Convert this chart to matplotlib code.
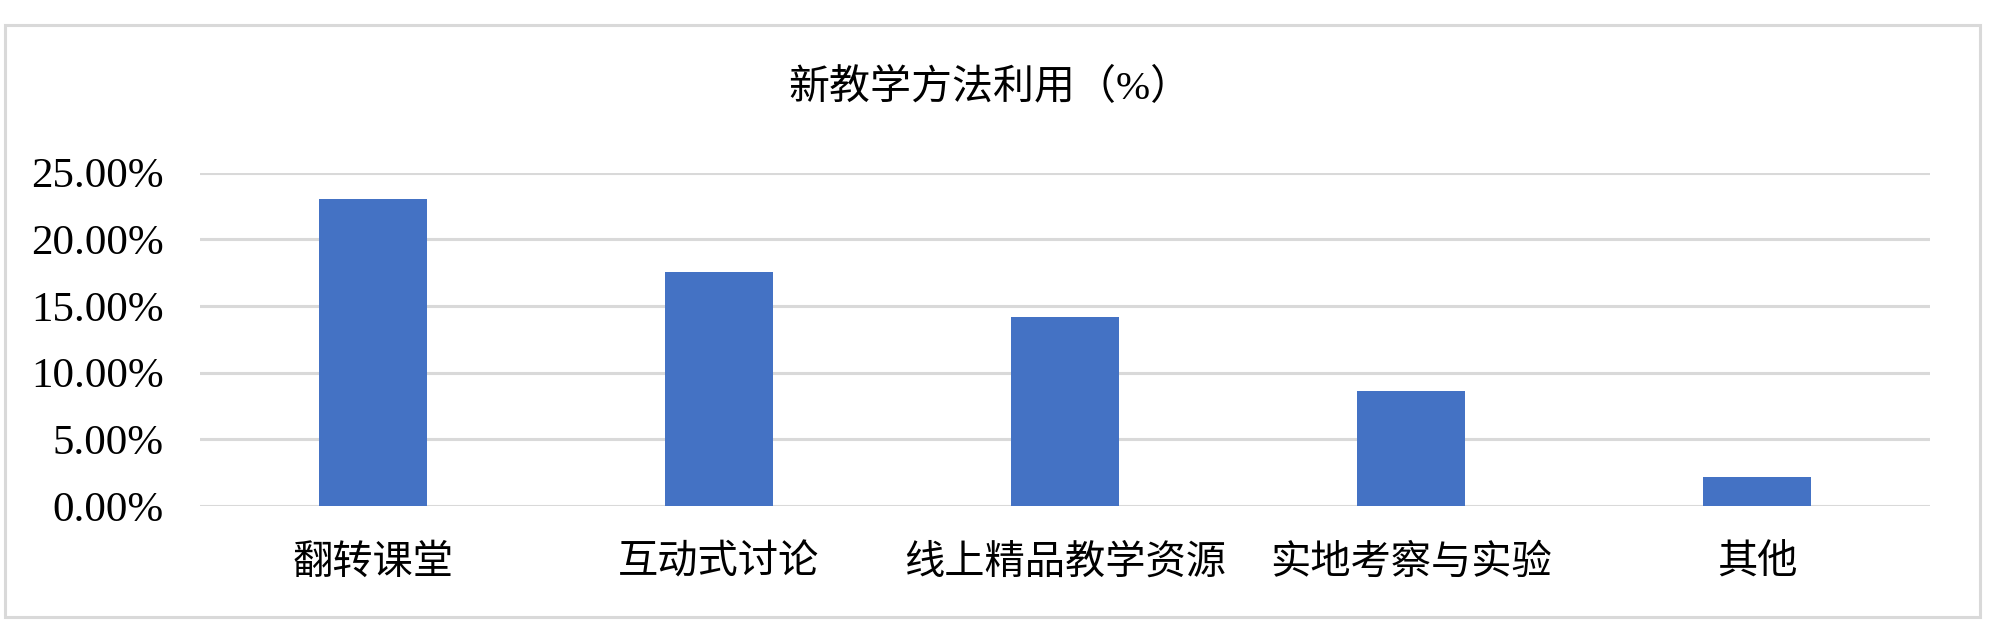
import matplotlib
matplotlib.use('Agg')
import matplotlib.pyplot as plt
from matplotlib.patches import Rectangle
from matplotlib.ticker import FuncFormatter

# 数据
categories = ['翻转课堂', '互动式讨论', '线上精品教学资源', '实地考察与实验', '其他']
values = [23.03, 17.57, 14.15, 8.65, 2.15]
title = '新教学方法利用（%）'
yticks = [0, 5, 10, 15, 20, 25]

plt.rcParams['font.family'] = ['Liberation Serif', 'Noto Sans CJK SC']

fig = plt.figure(figsize=(20, 6.35), dpi=100)
ax = fig.add_axes([0.1, 0.2031, 0.865, 0.525])

x = list(range(len(categories)))
ax.bar(x, values, width=0.315, color='#4472C4', zorder=3)

ax.set_xlim(-0.5, len(categories) - 0.5)
ax.set_ylim(0, 25)
ax.set_yticks(yticks)
ax.yaxis.set_major_formatter(FuncFormatter(lambda v, p: '%.2f%%' % v))
ax.set_xticks(x)
ax.set_xticklabels(categories)
ax.grid(axis='y', color='#D9D9D9', linewidth=2.2, zorder=0)
ax.tick_params(axis='y', length=0, pad=26, labelsize=31, colors='black')
ax.tick_params(axis='x', length=0, pad=28, labelsize=29, colors='black')
for s in ax.spines.values():
    s.set_visible(False)

fig.text(0.495, 0.861, title, ha='center', va='center', fontsize=29.5)

# 外框
fig.patches.append(Rectangle((0.0025, 0.0283), 0.9875, 0.9323, transform=fig.transFigure,
                             fill=False, edgecolor='#D9D9D9', linewidth=2.2))

fig.savefig('out.png', dpi=100, facecolor='white')
